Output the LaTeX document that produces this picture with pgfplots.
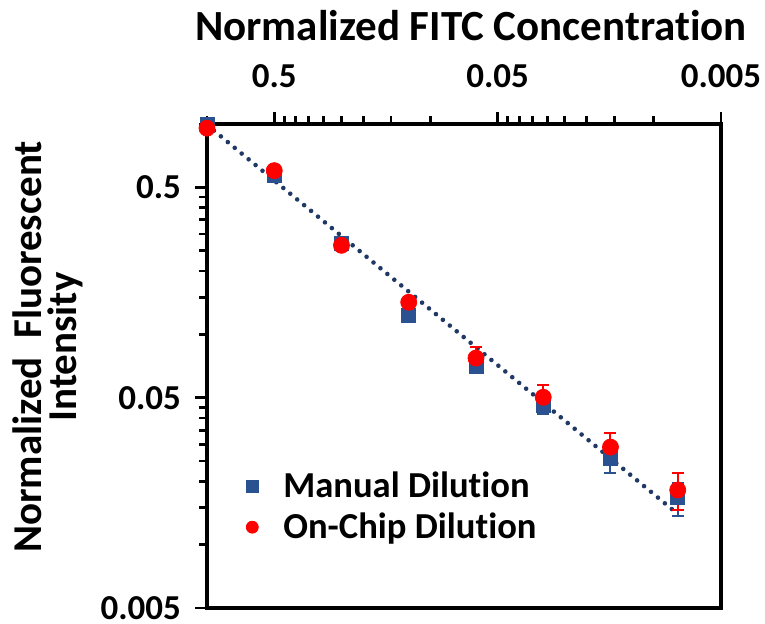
\documentclass[border=0pt]{standalone}
\usepackage{pgfplots}
\pgfplotsset{compat=1.18}
\usepackage{pgfplotstable}
\usepackage{fontspec}
\setmainfont{Carlito}[Ligatures=NoCommon]
\definecolor{mblue}{HTML}{2A5291}
\definecolor{tline}{HTML}{1F3864}
\definecolor{ored}{HTML}{FF0000}

\pgfplotstableread{
x          m      me      c      ce
1          1.00   0.02    0.955  0.015
0.5        0.57   0.015   0.60   0.015
0.25       0.27   0.008   0.265  0.010
0.125      0.123  0.006   0.142  0.008
0.0625     0.0706 0.005   0.0771 0.010
0.03125    0.046  0.004   0.0502 0.007
0.015625   0.0258 0.004   0.0291 0.0047
0.0078125  0.0167 0.003   0.0182 0.0036
}\datatable

\begin{document}
\begin{tikzpicture}
\useasboundingbox (-103.5pt,-8pt) rectangle (279pt,304pt);
\begin{axis}[
  at={(0,0)}, anchor=south west,
  scale only axis, width=257pt, height=242pt,
  xmode=log, ymode=log,
  x dir=reverse,
  xmin=0.005, xmax=1, ymin=0.005, ymax=1,
  axis line style={line width=1.8pt},
  tick align=outside,
  xtick pos=right, xticklabel pos=right,
  ytick pos=left, yticklabel pos=left,
  xtick={0.5,0.05,0.005}, xticklabels={0.5,0.05,0.005},
  ytick={0.5,0.05,0.005}, yticklabels={0.5,0.05,0.005},
  minor xtick={1,0.45,0.4,0.35,0.3,0.25,0.2,0.15,0.1,0.045,0.04,0.035,0.03,0.025,0.02,0.015,0.01},
  minor ytick={1,0.45,0.4,0.35,0.3,0.25,0.2,0.15,0.1,0.045,0.04,0.035,0.03,0.025,0.02,0.015,0.01},
  major tick length=6pt, minor tick length=4pt,
  every tick/.style={black, line width=1.4pt},
  tick label style={font=\fontsize{17.5}{20}\selectfont\bfseries},
  xticklabel style={yshift=8.5pt},
  yticklabel style={xshift=-3.5pt},
  /pgf/number format/assume math mode=true,
  clip=false,
  legend style={draw=none, fill=none, at={(0.064,0.209)}, anchor=west,
    font=\fontsize{18.3}{20}\selectfont\bfseries, row sep=2pt, column sep=10.5pt},
  legend cell align=left,
  legend image post style={mark size=3pt},
]
\addplot[tline, line width=2.3pt, dash pattern=on 0pt off 4.5pt, line cap=round, forget plot]
  coordinates {(1,0.99) (0.0078125,0.014)};
\addplot[only marks, mark=square*, mark size=3.5pt, color=mblue,
  error bars/.cd, y dir=both, y explicit,
  error bar style={line width=1pt, color=mblue},
  error mark options={rotate=90, mark size=3pt, line width=1pt, color=mblue}]
  table[x=x, y=m, y error=me] {\datatable};
\addlegendentry{Manual Dilution}
\addplot[only marks, mark=*, mark size=4pt, color=ored,
  error bars/.cd, y dir=both, y explicit,
  error bar style={line width=1pt, color=ored},
  error mark options={rotate=90, mark size=3pt, line width=1pt, color=ored}]
  table[x=x, y=c, y error=ce] {\datatable};
\addlegendentry{On-Chip Dilution}
\end{axis}
\node[anchor=base, font=\fontsize{21.5}{25}\selectfont\bfseries] at (132pt,283.5pt) {Normalized FITC Concentration};
\node[rotate=90, align=center, font=\fontsize{20.5}{17.5}\selectfont\bfseries] at (-79.5pt,130.5pt) {Normalized\ \ Fluorescent\\Intensity};
\end{tikzpicture}
\end{document}
